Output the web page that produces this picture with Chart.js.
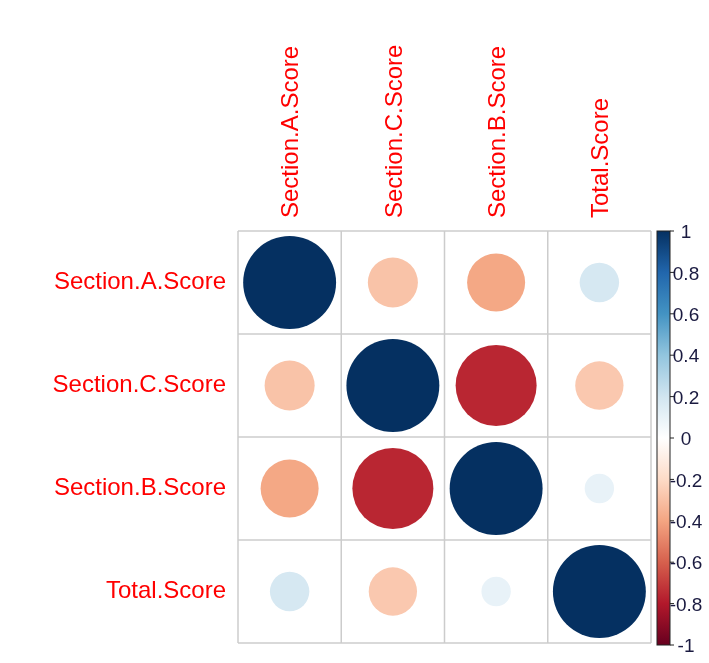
<!DOCTYPE html>
<html>
<head>
<meta charset="utf-8">
<script src="https://cdn.jsdelivr.net/npm/chart.js@4/dist/chart.umd.min.js"></script>
<style>
  html, body { margin: 0; padding: 0; background: #fff; }
  #wrap { width: 709px; height: 663px; position: relative; }
</style>
</head>
<body>
<div id="wrap"><canvas id="corr"></canvas></div>
<script>
// Variables in the order corrplot drew them (rows top to bottom, columns left to right)
const variables = ['Section.A.Score', 'Section.C.Score', 'Section.B.Score', 'Total.Score'];

// Correlation rows
const rowA = [1.00, -0.29, -0.39, 0.18];
const rowC = [-0.29, 1.00, -0.76, -0.27];
const rowB = [-0.39, -0.76, 1.00, 0.10];
const rowT = [0.18, -0.27, 0.10, 1.00];
const corrRows = [rowA, rowC, rowB, rowT];

// Colour bar tick labels
const barTicks = [1, 0.8, 0.6, 0.4, 0.2, 0, -0.2, -0.4, -0.6, -0.8, -1];

// corrplot's default RdBu ramp, from -1 to 1
const ramp = ['#67001F', '#B2182B', '#D6604D', '#F4A582', '#FDDBC7', '#FFFFFF',
              '#D1E5F0', '#92C5DE', '#4393C3', '#2166AC', '#053061'];

function hexToRgb(h) {
  return [parseInt(h.slice(1, 3), 16), parseInt(h.slice(3, 5), 16), parseInt(h.slice(5, 7), 16)];
}

function corrColor(v) {
  const pos = (v + 1) / 2 * (ramp.length - 1);
  const i = Math.min(Math.floor(pos), ramp.length - 2);
  const t = pos - i;
  const a = hexToRgb(ramp[i]), b = hexToRgb(ramp[i + 1]);
  const c = a.map((x, k) => Math.round(x + (b[k] - x) * t));
  return `rgb(${c[0]},${c[1]},${c[2]})`;
}

const points = [];
corrRows.forEach((row, r) => {
  row.forEach((v, c) => points.push({ x: c + 1, y: r + 1, v }));
});

const labelFont = '24px "Liberation Sans", Arial, sans-serif';

// Cell borders, variable names and the colour legend
const corrDecor = {
  id: 'corrDecor',
  beforeDatasetsDraw(chart) {
    const { ctx, scales: { x, y } } = chart;
    ctx.save();
    ctx.strokeStyle = '#cccccc';
    ctx.lineWidth = 1.5;
    for (let i = 0; i <= variables.length; i++) {
      const px = x.getPixelForValue(i + 0.5);
      const py = y.getPixelForValue(i + 0.5);
      ctx.beginPath();
      ctx.moveTo(px, y.getPixelForValue(0.5));
      ctx.lineTo(px, y.getPixelForValue(variables.length + 0.5));
      ctx.stroke();
      ctx.beginPath();
      ctx.moveTo(x.getPixelForValue(0.5), py);
      ctx.lineTo(x.getPixelForValue(variables.length + 0.5), py);
      ctx.stroke();
    }
    ctx.restore();
  },
  afterDraw(chart) {
    const { ctx, chartArea, scales: { x, y, cb } } = chart;
    ctx.save();
    ctx.fillStyle = '#ff0000';
    ctx.font = labelFont;

    // row names on the left
    ctx.textAlign = 'right';
    ctx.textBaseline = 'middle';
    variables.forEach((name, i) => {
      ctx.fillText(name, chartArea.left - 12, y.getPixelForValue(i + 1));
    });

    // column names rotated above the grid
    variables.forEach((name, i) => {
      ctx.save();
      ctx.translate(x.getPixelForValue(i + 1) + 2, chartArea.top - 13);
      ctx.rotate(-Math.PI / 2);
      ctx.textAlign = 'left';
      ctx.textBaseline = 'middle';
      ctx.fillText(name, 0, 0);
      ctx.restore();
    });

    // colour bar
    const bx = chartArea.right + 6, bw = 13;
    const top = cb.getPixelForValue(1), bottom = cb.getPixelForValue(-1) + 2;
    const grad = ctx.createLinearGradient(0, top, 0, bottom);
    ramp.slice().reverse().forEach((c, i) => grad.addColorStop(i / (ramp.length - 1), c));
    ctx.fillStyle = grad;
    ctx.fillRect(bx, top, bw, bottom - top);
    ctx.strokeStyle = '#222';
    ctx.lineWidth = 1;
    ctx.strokeRect(bx, top, bw, bottom - top);

    ctx.fillStyle = '#1a1a40';
    ctx.font = '19px "Liberation Sans", Arial, sans-serif';
    ctx.textAlign = 'center';
    ctx.textBaseline = 'middle';
    barTicks.forEach(t => {
      const py = top + (1 - t) / 2 * (bottom - top);
      ctx.beginPath();
      ctx.moveTo(bx + bw, py);
      ctx.lineTo(bx + bw + 4, py);
      ctx.stroke();
      ctx.fillText(String(t), bx + bw + 16, py + 2);
    });
    ctx.restore();
  },
};

// corrplot circle: diameter = 0.9 * cell * sqrt(|r|)
// (scatter instead of bubble: bubble resolves the radius while parsing, before layout)
function cellRadius(ctx) {
  const sx = ctx.chart.scales.x;
  const p = points[ctx.dataIndex];
  if (!sx || !p) return 0;
  const cell = Math.abs(sx.getPixelForValue(1) - sx.getPixelForValue(0));
  return 0.45 * cell * Math.sqrt(Math.abs(p.v));
}

new Chart(document.getElementById('corr'), {
  type: 'scatter',
  plugins: [corrDecor],
  data: {
    datasets: [{
      data: points,
      pointBackgroundColor: points.map(p => corrColor(p.v)),
      pointHoverBackgroundColor: points.map(p => corrColor(p.v)),
      pointBorderWidth: 0,
      pointHoverBorderWidth: 0,
      pointRadius: cellRadius,
      pointHoverRadius: cellRadius,
      showLine: false,
    }],
  },
  options: {
    responsive: true,
    maintainAspectRatio: false,
    animation: false,
    layout: { padding: { left: 238, top: 231, right: 58, bottom: 20 } },
    plugins: { legend: { display: false }, tooltip: { enabled: false } },
    scales: {
      x: { type: 'linear', min: 0.5, max: 4.5, display: false },
      y: { type: 'linear', min: 0.5, max: 4.5, reverse: true, display: false },
      cb: { type: 'linear', min: -1, max: 1, display: false, position: 'right' },
    },
  },
});
</script>
</body>
</html>
